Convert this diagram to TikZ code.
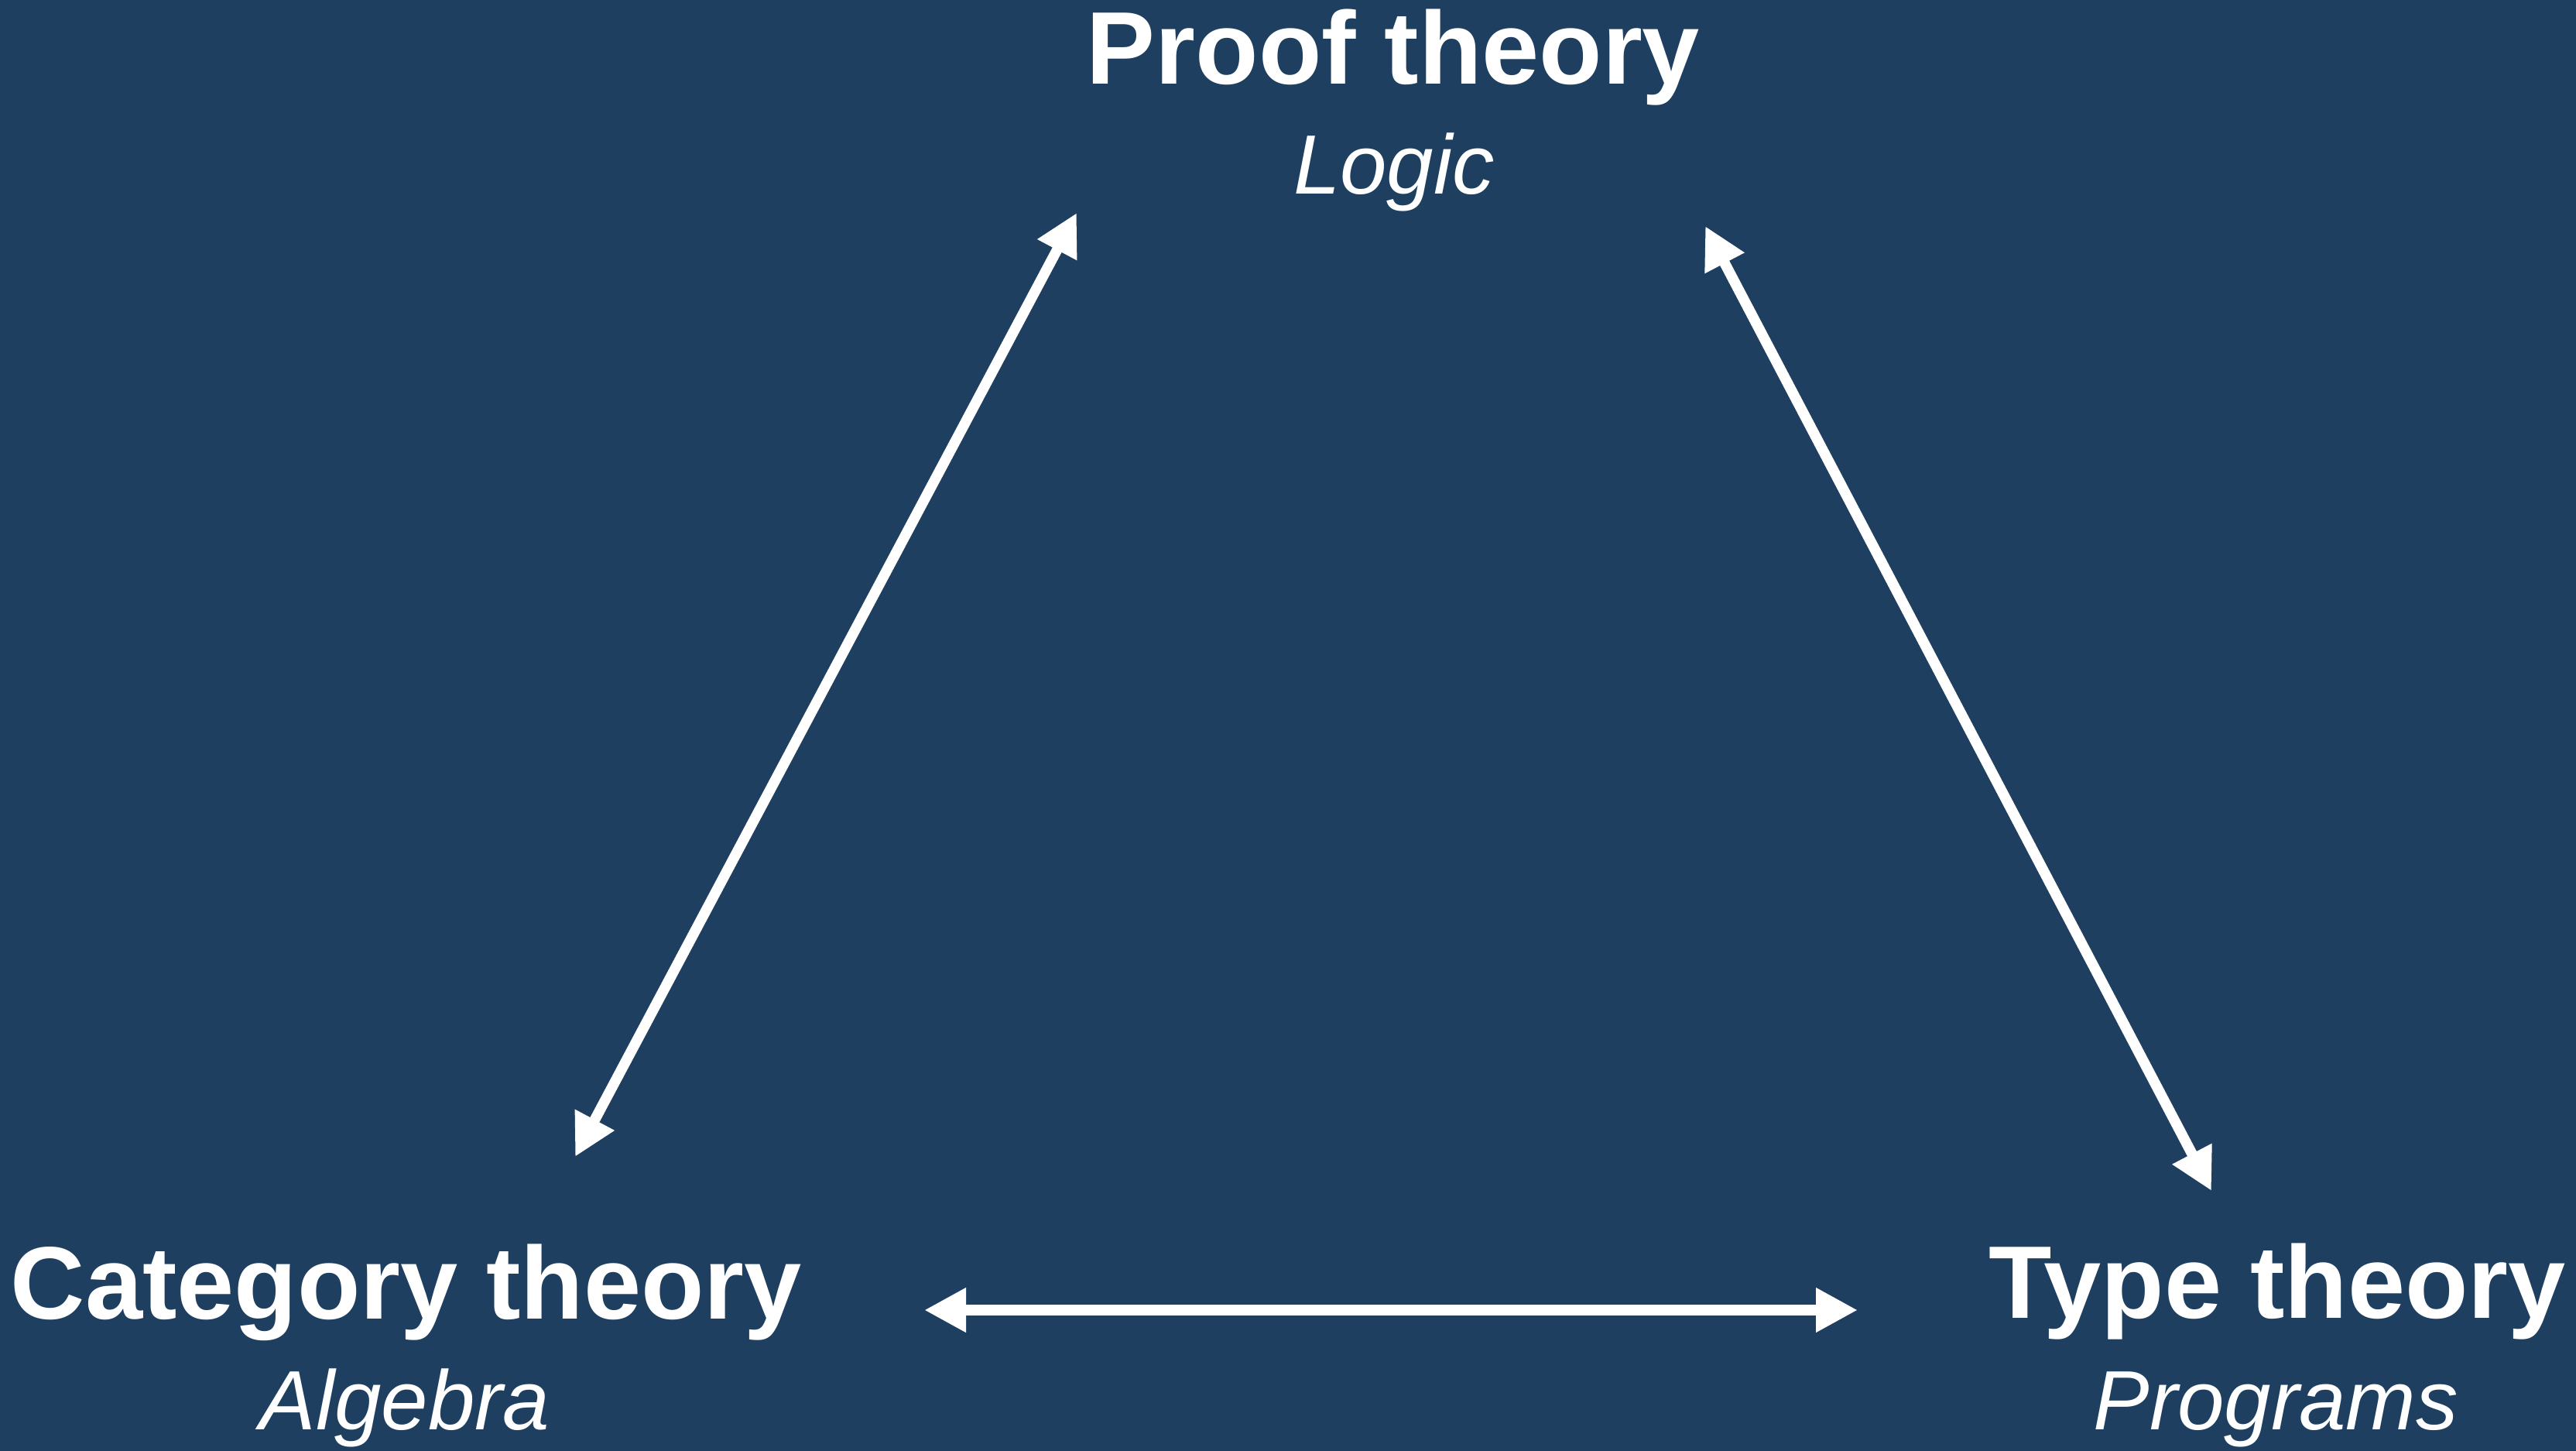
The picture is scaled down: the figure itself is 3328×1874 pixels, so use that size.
\documentclass[tikz,border=0pt]{standalone}
\usepackage{fontspec}
\setmainfont{Liberation Sans}
\usetikzlibrary{arrows.meta}
\definecolor{bg}{RGB}{30,63,96}
\begin{document}
\begin{tikzpicture}[x=0.01cm,y=-0.01cm,
  title/.style={anchor=base, inner sep=0pt, text=white, font=\fontsize{37.9}{40}\selectfont\bfseries},
  sub/.style={anchor=base, inner sep=0pt, text=white, font=\fontsize{30.9}{34}\selectfont\itshape},
  link/.style={draw=white, line width=0.135cm,
    {Triangle[length=0.54cm,width=0.54cm]}-{Triangle[length=0.54cm,width=0.54cm]}}]
\fill[bg] (0,0) rectangle (3328,1874);
\useasboundingbox (0,0) rectangle (3328,1874);
% labels
\node[title] (proof) at (1800,109) {Proof theory};
\node[sub] (logic) at (1801,251) {Logic};
\node[title] (cat) at (525,1703) {Category theory};
\node[sub] (alg) at (523,1846) {Algebra};
\node[title] (type) at (2942,1702) {Type theory};
\node[sub] (prog) at (2940,1846) {Programs};
% arrow ends
\coordinate (pl) at (1391,275);
\coordinate (cu) at (743,1494);
\coordinate (pr) at (2203,292);
\coordinate (tu) at (2857,1538);
\coordinate (cr) at (1194,1692);
\coordinate (tl) at (2400,1692);
\draw[link] (cu) -- (pl);
\draw[link] (pr) -- (tu);
\draw[link] (cr) -- (tl);
\end{tikzpicture}
\end{document}
